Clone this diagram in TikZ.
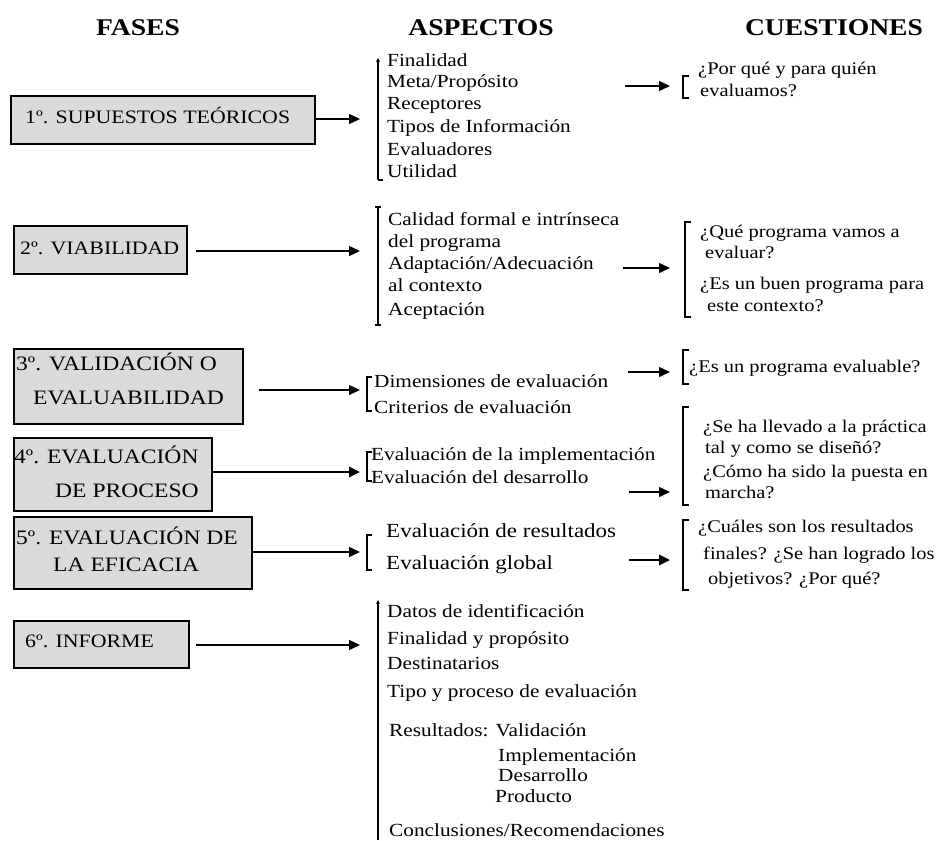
\documentclass[tikz,border=0pt]{standalone}
\usepackage{fontspec}
\setmainfont{Liberation Serif}[FakeStretch=1.15]
\usetikzlibrary{arrows.meta}
\definecolor{boxgray}{RGB}{218,218,218}
\newcommand\hdrfont{\fontsize{24}{28}\selectfont\bfseries}
\newcommand\boxfont{\fontsize{19}{22}\selectfont}
\newcommand\bigboxfont{\fontsize{20.5}{24}\selectfont}
\newcommand\txtfont{\fontsize{18.5}{22}\selectfont}
\newcommand\qfont{\fontsize{17.8}{22}\selectfont}
\newcommand\bigtxtfont{\fontsize{20}{24}\selectfont}
\tikzset{
  fase/.style={draw, line width=1.6pt, fill=boxgray, inner sep=0pt, anchor=north west},
  txt/.style={anchor=west, inner sep=0pt, text height=12pt, text depth=4pt, font=\txtfont},
  qtxt/.style={txt, font=\qfont},
  btxt/.style={txt, font=\boxfont},
  bbtxt/.style={txt, font=\bigboxfont},
  htxt/.style={anchor=base, inner sep=0pt, font=\hdrfont},
  arr/.style={-{Triangle[length=11pt,width=10pt]}, line width=1.3pt},
  thickarr/.style={arr, line width=2.6pt},
  brk/.style={line width=1.1pt},
  qbrk/.style={line width=1.6pt},
}
\begin{document}
\begin{tikzpicture}[x=1pt,y=-1pt]
\useasboundingbox (0,0) rectangle (941,840);

% headers
\node[htxt] (h1) at (138,36) {FASES};
\node[htxt] (h2) at (481,36) {ASPECTOS};
\node[htxt] (h3) at (834,36) {CUESTIONES};

% ---------- phase boxes ----------
\node[fase, minimum width=304pt, minimum height=48pt] (f1) at (10,95) {};
\node[btxt] (f1t) at (25,119) {1º. SUPUESTOS TEÓRICOS};

\node[fase, minimum width=173pt, minimum height=48pt] (f2) at (13,225) {};
\node[btxt] (f2t) at (20,250) {2º. VIABILIDAD};

\node[fase, minimum width=229pt, minimum height=75pt] (f3) at (13,348) {};
\node[bbtxt] (f3a) at (16,366) {3º. VALIDACIÓN O};
\node[bbtxt] (f3b) at (33,400) {EVALUABILIDAD};

\node[fase, minimum width=198pt, minimum height=73pt] (f4) at (13,437) {};
\node[bbtxt] (f4a) at (14,459) {4º. EVALUACIÓN};
\node[bbtxt] (f4b) at (55,493) {DE PROCESO};

\node[fase, minimum width=238pt, minimum height=72pt] (f5) at (13,516) {};
\node[bbtxt] (f5a) at (16,540) {5º. EVALUACIÓN DE};
\node[bbtxt] (f5b) at (53,567) {LA EFICACIA};

\node[fase, minimum width=175pt, minimum height=47pt] (f6) at (13,620) {};
\node[btxt] (f6t) at (25,643) {6º. INFORME};

% ---------- arrow targets ----------
\coordinate (a1) at (360,119);
\coordinate (a2) at (360,251);
\coordinate (a3) at (360,390);
\coordinate (a4) at (360,472);
\coordinate (a5) at (360,552);
\coordinate (a6) at (360,645);

\draw[arr] (f1.east |- a1) -- (a1);
\draw[arr, shorten <=8pt] (f2.east |- a2) -- (a2);
\draw[arr, shorten <=15pt] (f3.east |- a3) -- (a3);
\draw[thickarr] (f4.east |- a4) -- (a4);
\draw[arr] (f5.east |- a5) -- (a5);
\draw[arr, shorten <=6pt] (f6.east |- a6) -- (a6);

% ---------- aspects ----------
% row 1
\draw[brk, -{Stealth[length=4pt,width=4pt]}] (378,180) -- (378,58);
\draw[brk] (378,180) -- (383,180);
\node[txt] (s11) at (387,63) {Finalidad};
\node[txt] (s12) at (387,84) {Meta/Propósito};
\node[txt] (s13) at (387,106) {Receptores};
\node[txt] (s14) at (387,128) {Tipos de Información};
\node[txt] (s15) at (387,151) {Evaluadores};
\node[txt] (s16) at (387,173) {Utilidad};

% row 2
\draw[brk] (375,207) -- (381,207) (378,207) -- (378,325) (375,325) -- (381,325);
\node[txt] (s21) at (388,221) {Calidad formal e intrínseca};
\node[txt] (s22) at (388,243) {del programa};
\node[txt] (s23) at (388,265) {Adaptación/Adecuación};
\node[txt] (s24) at (388,287) {al contexto};
\node[txt] (s25) at (388,311) {Aceptación};

% row 3
\draw[brk] (372,377) -- (367,377) -- (367,411) -- (372,411);
\node[txt] (s31) at (374,383) {Dimensiones de evaluación};
\node[txt] (s32) at (374,409) {Criterios de evaluación};

% row 4
\draw[brk] (372,452) -- (367,452) -- (367,481) -- (372,481);
\node[txt] (s41) at (371,456) {Evaluación de la implementación};
\node[txt] (s42) at (371,479) {Evaluación del desarrollo};

% row 5
\draw[brk] (372,535) -- (367,535) -- (367,570) -- (372,570);
\node[txt, font=\bigtxtfont] (s51) at (386,533) {Evaluación de resultados};
\node[txt, font=\bigtxtfont] (s52) at (386,565) {Evaluación global};

% row 6
\draw[brk, -{Stealth[length=4pt,width=4pt]}] (378,840) -- (378,600);
\node[txt] (s61) at (387,613) {Datos de identificación};
\node[txt] (s62) at (387,640) {Finalidad y propósito};
\node[txt] (s63) at (387,665) {Destinatarios};
\node[txt] (s64) at (387,693) {Tipo y proceso de evaluación};
\node[txt] (s65) at (389,732) {Resultados: Validación};
\node[txt] (s66) at (498,757) {Implementación};
\node[txt] (s67) at (498,777) {Desarrollo};
\node[txt] (s68) at (495,798) {Producto};
\node[txt] (s69) at (389,832) {Conclusiones/Recomendaciones};

% ---------- arrows to questions ----------
\coordinate (b1s) at (625,86);  \coordinate (b1e) at (670,86);
\coordinate (b2s) at (623,268); \coordinate (b2e) at (670,268);
\coordinate (b3s) at (628,372); \coordinate (b3e) at (670,372);
\coordinate (b4s) at (629,492); \coordinate (b4e) at (670,492);
\coordinate (b5s) at (629,560); \coordinate (b5e) at (670,560);
\draw[arr] (b1s) -- (b1e);
\draw[arr] (b2s) -- (b2e);
\draw[arr] (b3s) -- (b3e);
\draw[arr] (b4s) -- (b4e);
\draw[thickarr] (b5s) -- (b5e);

% ---------- questions ----------
\draw[qbrk] (689,76) -- (683,76) -- (683,98) -- (689,98);
\node[qtxt] (q11) at (698,71) {¿Por qué y para quién};
\node[qtxt] (q12) at (700,93) {evaluamos?};

\draw[qbrk] (691,222) -- (685,222) -- (685,317) -- (691,317);
\node[qtxt] (q21) at (700,233) {¿Qué programa vamos a};
\node[qtxt] (q22) at (705,254) {evaluar?};
\node[qtxt] (q23) at (700,285) {¿Es un buen programa para};
\node[qtxt] (q24) at (707,307) {este contexto?};

\draw[qbrk] (689,350) -- (683,350) -- (683,384) -- (689,384);
\node[qtxt] (q31) at (689,368) {¿Es un programa evaluable?};

\draw[qbrk] (689,407) -- (683,407) -- (683,505) -- (689,505);
\node[qtxt] (q41) at (703,428) {¿Se ha llevado a la práctica};
\node[qtxt] (q42) at (705,449) {tal y como se diseñó?};
\node[qtxt] (q43) at (703,473) {¿Cómo ha sido la puesta en};
\node[qtxt] (q44) at (705,494) {marcha?};

\draw[qbrk] (689,520) -- (683,520) -- (683,590) -- (689,590);
\node[qtxt] (q51) at (698,528) {¿Cuáles son los resultados};
\node[qtxt] (q52) at (703,555) {finales? ¿Se han logrado los};
\node[qtxt] (q53) at (708,580) {objetivos? ¿Por qué?};
\end{tikzpicture}
\end{document}
